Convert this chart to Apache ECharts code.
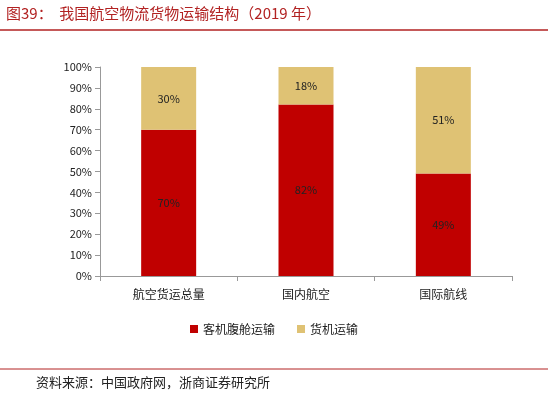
<!DOCTYPE html>
<html>
<head>
<meta charset="utf-8">
<script src="https://cdn.jsdelivr.net/npm/echarts@6/dist/echarts.min.js"></script>
<style>body{margin:0;background:#fff}</style>
</head>
<body>
<div id="main" style="width:548px;height:402px;"></div>
<script>
var categories = ['航空货运总量', '国内航空', '国际航线'];
var bellyValues = [70, 82, 49];
var freighterValues = [30, 18, 51];
var yTicks = [0, 10, 20, 30, 40, 50, 60, 70, 80, 90, 100];

var chart = echarts.init(document.getElementById('main'));
var font = '"Noto Sans CJK SC", sans-serif';
chart.setOption({
    textStyle: {fontFamily: font},
    graphic: [
        {type: 'text', left: 6, top: 6, style: {text: '图39：  我国航空物流货物运输结构（2019 年）', fill: '#B22222', font: '15px ' + font}},
        {type: 'line', shape: {x1: 0, y1: 30, x2: 548, y2: 30}, style: {stroke: '#B22222', lineWidth: 1.5}},
        {type: 'line', shape: {x1: 0, y1: 369, x2: 548, y2: 369}, style: {stroke: '#B22222', lineWidth: 1}},
        {type: 'text', left: 36, top: 376, style: {text: '资料来源：中国政府网，浙商证券研究所', fill: '#222', font: '13px ' + font}}
    ],
    legend: {
        bottom: 62, itemWidth: 8, itemHeight: 8, itemGap: 22,
        icon: 'rect',
        textStyle: {fontSize: 12, color: '#222'},
        data: ['客机腹舱运输', '货机运输']
    },
    grid: {left: 100, right: 36, top: 67, height: 209},
    xAxis: {
        type: 'category', data: categories,
        axisLine: {lineStyle: {color: '#999'}},
        axisTick: {show: true, lineStyle: {color: '#999'}},
        axisLabel: {color: '#222', fontSize: 12, margin: 12}
    },
    yAxis: {
        type: 'value', min: 0, max: 100, interval: 10,
        axisLine: {show: true, lineStyle: {color: '#999'}},
        axisTick: {show: true, lineStyle: {color: '#999'}},
        splitLine: {show: false},
        axisLabel: {color: '#222', fontSize: 11, formatter: '{value}%'}
    },
    series: [
        {
            name: '客机腹舱运输', type: 'bar', stack: 'a', barWidth: 55,
            itemStyle: {color: '#C00000'},
            label: {show: true, color: '#222', fontSize: 11, formatter: '{c}%'},
            data: bellyValues
        },
        {
            name: '货机运输', type: 'bar', stack: 'a',
            itemStyle: {color: '#DFC274'},
            label: {show: true, color: '#222', fontSize: 11, formatter: '{c}%'},
            data: freighterValues
        }
    ]
});
</script>
</body>
</html>
